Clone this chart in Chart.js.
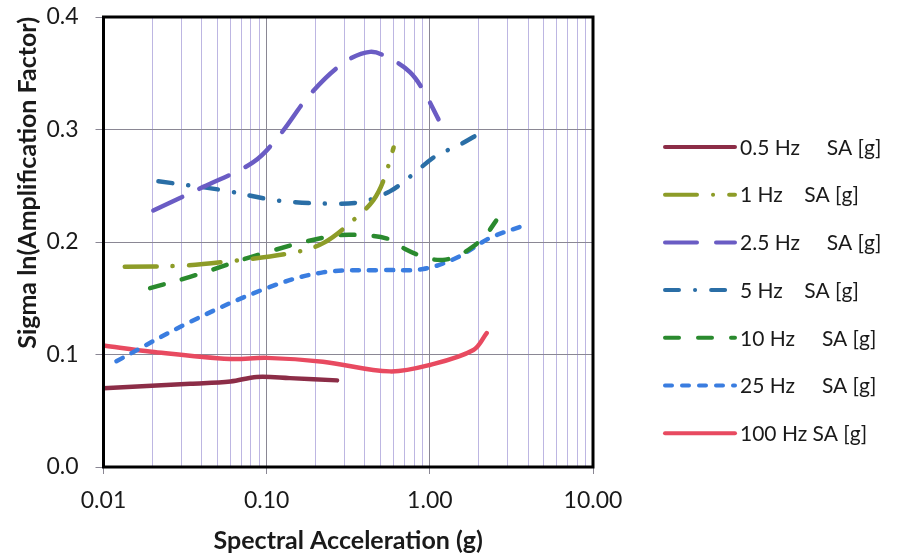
<!DOCTYPE html>
<html>
<head>
<meta charset="utf-8">
<script src="https://cdn.jsdelivr.net/npm/chart.js@4.4.0/dist/chart.umd.min.js"></script>
<style>
  html, body { margin: 0; padding: 0; background: #fff; }
  #wrap { width: 898px; height: 560px; position: relative; }
</style>
</head>
<body>
<div id="wrap"><canvas id="sigmaChart" width="898" height="560"></canvas></div>
<script>
// ---- data ----
const xTickValues = [0.01, 0.1, 1, 10];
const yTickValues = [0.0, 0.1, 0.2, 0.3, 0.4];

const seriesLabels = [
  '0.5 Hz     SA [g]',
  '1 Hz    SA [g]',
  '2.5 Hz     SA [g]',
  '5 Hz    SA [g]',
  '10 Hz     SA [g]',
  '25 Hz     SA [g]',
  '100 Hz SA [g]'
];

const sa05X = [0.01, 0.034, 0.06, 0.087, 0.139, 0.27];
const sa05Y = [0.070, 0.074, 0.076, 0.080, 0.079, 0.077];

const sa1X = [0.0135, 0.031, 0.06, 0.139, 0.222, 0.356, 0.45, 0.518, 0.6];
const sa1Y = [0.178, 0.179, 0.183, 0.190, 0.199, 0.222, 0.237, 0.254, 0.284];

const sa25X = [0.0202, 0.0409, 0.0828, 0.12, 0.184, 0.295, 0.43, 0.569, 0.755, 0.91, 1.13];
const sa25Y = [0.228, 0.249, 0.271, 0.295, 0.331, 0.359, 0.369, 0.363, 0.351, 0.335, 0.309];

const sa5X = [0.0217, 0.0542, 0.115, 0.256, 0.39, 0.569, 0.755, 1.1, 1.46, 1.94];
const sa5Y = [0.254, 0.246, 0.237, 0.234, 0.236, 0.245, 0.258, 0.277, 0.285, 0.295];

const sa10X = [0.0193, 0.0339, 0.0953, 0.244, 0.39, 0.58, 0.7, 0.95, 1.2, 1.5, 1.84, 2.17, 2.55];
const sa10Y = [0.159, 0.169, 0.190, 0.205, 0.206, 0.202, 0.194, 0.186, 0.184, 0.188, 0.196, 0.205, 0.219];

const sa25hzX = [0.012, 0.034, 0.1, 0.221, 0.5, 0.91, 1.46, 2.33, 3.74];
const sa25hzY = [0.094, 0.129, 0.159, 0.173, 0.175, 0.176, 0.186, 0.2035, 0.2145];

const sa100X = [0.01, 0.0197, 0.0596, 0.1, 0.221, 0.569, 1.0, 1.85, 2.23];
const sa100Y = [0.108, 0.1025, 0.096, 0.097, 0.0936, 0.085, 0.0907, 0.104, 0.119];

// ---- helpers ----
function toPoints(xs, ys) {
  return xs.map((x, i) => ({ x: x, y: ys[i] }));
}

function isDecade(v) {
  const l = Math.log10(v);
  return Math.abs(l - Math.round(l)) < 1e-6;
}

const FONT = 'Lato, "Open Sans", sans-serif';

function lineSet(label, xs, ys, color, dash) {
  return {
    label: label,
    data: toPoints(xs, ys),
    borderColor: color,
    backgroundColor: color,
    borderWidth: 4.5,
    borderDash: dash,
    borderCapStyle: 'round',
    pointRadius: 0,
    pointHoverRadius: 0,
    fill: false,
    tension: 0.35
  };
}

// frame around the plot + legend on the right
const framePlugin = {
  id: 'frameAndLegend',
  afterDatasetsDraw(chart) {
    const { ctx, chartArea } = chart;
    ctx.save();
    ctx.strokeStyle = '#000';
    ctx.lineWidth = 3;
    ctx.setLineDash([]);
    ctx.strokeRect(chartArea.left, chartArea.top,
      chartArea.right - chartArea.left, chartArea.bottom - chartArea.top);
    ctx.restore();
  },
  afterDraw(chart) {
    const { ctx } = chart;
    const x0 = 665, x1 = 735, yStart = 147, step = 47.7;
    ctx.save();
    chart.data.datasets.forEach((ds, i) => {
      const y = yStart + i * step;
      ctx.strokeStyle = ds.borderColor;
      ctx.lineWidth = 4;
      ctx.lineCap = 'round';
      ctx.setLineDash(ds.borderDash || []);
      ctx.beginPath();
      ctx.moveTo(x0, y);
      ctx.lineTo(x1, y);
      ctx.stroke();
      ctx.setLineDash([]);
      ctx.fillStyle = '#1a1a1a';
      ctx.font = '21px ' + FONT;
      ctx.textBaseline = 'middle';
      ctx.textAlign = 'left';
      ctx.fillText(ds.label, 740, y + 1);
    });
    ctx.restore();
  }
};

function initializeChart() {
  const ctx = document.getElementById('sigmaChart').getContext('2d');

  return new Chart(ctx, {
    type: 'line',
    data: {
      datasets: [
        lineSet(seriesLabels[0], sa05X, sa05Y, '#8c2d47', []),
        lineSet(seriesLabels[1], sa1X, sa1Y, '#8d9c28', [32, 16, 0.1, 16]),
        lineSet(seriesLabels[2], sa25X, sa25Y, '#6a5cc4', [32, 19]),
        lineSet(seriesLabels[3], sa5X, sa5Y, '#2a6ea6', [14, 16, 0.1, 16]),
        lineSet(seriesLabels[4], sa10X, sa10Y, '#2a8a2e', [14, 19]),
        lineSet(seriesLabels[5], sa25hzX, sa25hzY, '#3a7de0', [7, 10]),
        lineSet(seriesLabels[6], sa100X, sa100Y, '#e84a60', [])
      ]
    },
    options: {
      responsive: false,
      animation: false,
      layout: { padding: { top: 17, right: 305, bottom: 4, left: 0 } },
      plugins: {
        legend: { display: false },
        tooltip: { enabled: false }
      },
      scales: {
        x: {
          type: 'logarithmic',
          min: 0.01,
          max: 10,
          afterFit(scale) {
            scale.height = 89;
            scale.paddingLeft = 0;
            scale.paddingRight = 0;
          },
          afterBuildTicks(scale) {
            const ticks = [];
            [0.01, 0.1, 1].forEach(d => {
              for (let k = 1; k <= 9; k++) ticks.push({ value: +(d * k).toPrecision(6) });
            });
            ticks.push({ value: 10 });
            scale.ticks = ticks;
          },
          ticks: {
            autoSkip: false,
            maxRotation: 0,
            padding: 13,
            color: '#1a1a1a',
            font: { family: FONT, size: 23 },
            callback: function(value) {
              if (!xTickValues.some(v => Math.abs(v - value) < 1e-9)) return '';
              return value.toFixed(2);
            }
          },
          grid: {
            color: ctx => (ctx.tick && isDecade(ctx.tick.value)) ? '#8a8794' : '#bdb6e2',
            lineWidth: 1,
            tickLength: 7,
            tickColor: ctx => (ctx.tick && isDecade(ctx.tick.value)) ? '#8a8794' : 'rgba(0,0,0,0)'
          },
          border: { display: false },
          title: {
            display: true,
            text: 'Spectral Acceleration (g)',
            color: '#1a1a1a',
            font: { family: FONT, size: 25, weight: 'bold' },
            padding: { top: 0, bottom: 0 }
          }
        },
        y: {
          type: 'linear',
          min: 0,
          max: 0.4,
          afterFit(scale) {
            scale.width = 103.5;
            scale.paddingTop = 0;
            scale.paddingBottom = 0;
          },
          afterBuildTicks(scale) {
            scale.ticks = yTickValues.map(v => ({ value: v }));
          },
          ticks: {
            padding: 17,
            color: '#1a1a1a',
            font: { family: FONT, size: 23 },
            callback: value => value.toFixed(1)
          },
          grid: {
            color: '#8a8794',
            lineWidth: 1,
            tickLength: 8,
            tickColor: '#8a8794'
          },
          border: { display: false },
          title: {
            display: true,
            text: 'Sigma ln(Amplification Factor)',
            align: 'end',
            color: '#1a1a1a',
            font: { family: FONT, size: 25, weight: 'bold' },
            padding: { top: 13, bottom: 0 }
          }
        }
      }
    },
    plugins: [framePlugin]
  });
}

document.addEventListener('DOMContentLoaded', () => {
  initializeChart();
});
</script>
</body>
</html>
